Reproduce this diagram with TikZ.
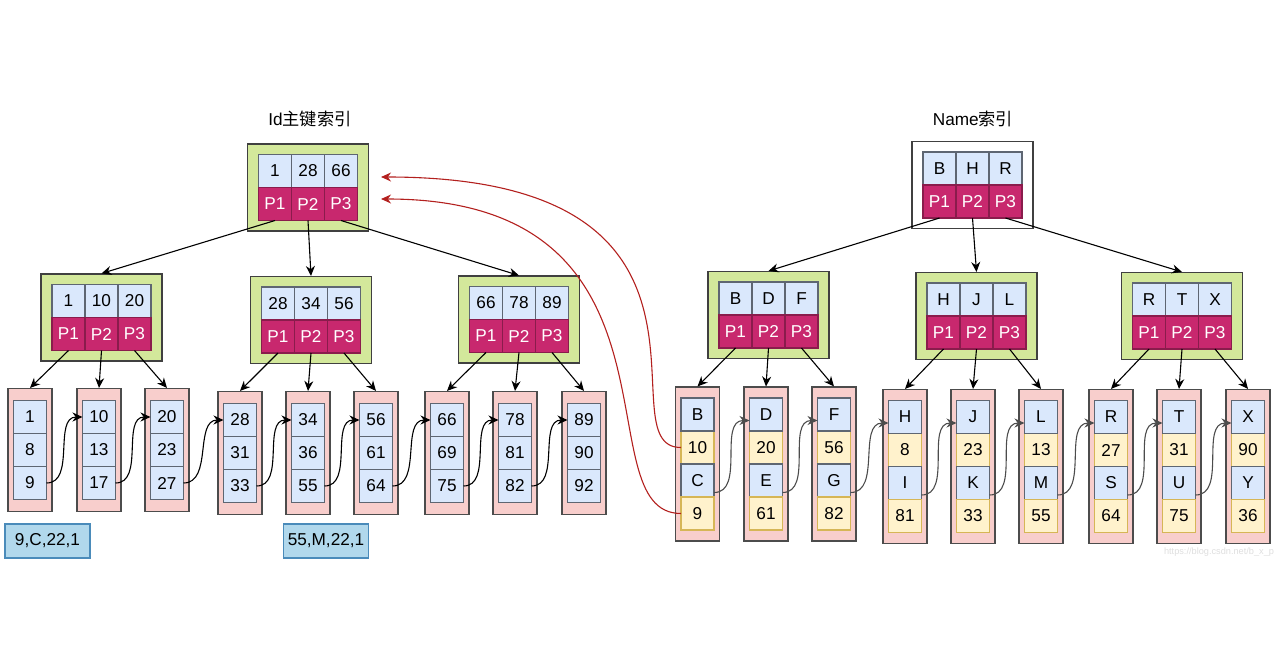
\documentclass[tikz,border=0pt]{standalone}
\usepackage{fontspec}
\setmainfont{Liberation Sans}
\newfontfamily\cjk{Noto Sans CJK SC}
\usetikzlibrary{arrows.meta,positioning}

\definecolor{keyblue}{HTML}{DAE8FC}
\definecolor{keyline}{HTML}{5E6672}
\definecolor{ptrred}{HTML}{C8286E}
\definecolor{ptrline}{HTML}{8A1C4C}
\definecolor{nodegreen}{HTML}{D3E89B}
\definecolor{leafpink}{HTML}{F8CECC}
\definecolor{datayellow}{HTML}{FFF2CC}
\definecolor{dataline}{HTML}{D6B656}
\definecolor{rowblue}{HTML}{B1D8EC}
\definecolor{rowline}{HTML}{4A8BBA}
\definecolor{linkred}{HTML}{B3201E}

% index block: name, x, y, box style, three keys
\newcommand{\idxblock}[7]{%
  \node[#4] (#1) at (#2,#3) {};
  \node[keycell, above=0pt of #1.center] (#1-k2) {#6};
  \node[keycell, left=0pt of #1-k2] (#1-k1) {#5};
  \node[keycell, right=0pt of #1-k2] (#1-k3) {#7};
  \node[ptrcell, below=0pt of #1-k1] (#1-p1) {P1};
  \node[ptrcell, below=0pt of #1-k2] (#1-p2) {P2};
  \node[ptrcell, below=0pt of #1-k3] (#1-p3) {P3};
}
% leaf of the id index: name, x, y, three keys
\newcommand{\keyleaf}[6]{%
  \node[leafbox, minimum height=61.5pt] (#1) at (#2,#3) {};
  \node[keycell] (#1-b) at (#1.center) {#5};
  \node[keycell, above=0pt of #1-b] (#1-a) {#4};
  \node[keycell, below=0pt of #1-b] (#1-c) {#6};
}
% leaf of the name index: name, x, y, key, id, key, id
\newcommand{\nameleaf}[7]{%
  \node[leafbox, minimum height=77pt] (#1) at (#2,#3) {};
  \node[datacell, above=0pt of #1.center] (#1-b) {#5};
  \node[keycell, above=0pt of #1-b] (#1-a) {#4};
  \node[keycell, below=0pt of #1-b] (#1-c) {#6};
  \node[datacell, below=0pt of #1-c] (#1-d) {#7};
}

\begin{document}
\begin{tikzpicture}[x=0.5pt, y=-0.5pt, line width=0.55pt,
                    >={Stealth[length=5pt,width=4.5pt]},
                    every node/.style={font=\fontsize{8.6}{10}\selectfont},
                    keycell/.style={draw=keyline, fill=keyblue, minimum width=16.5pt,
                                    minimum height=16.5pt, inner sep=0pt, outer sep=0pt},
                    ptrcell/.style={keycell, draw=ptrline, fill=ptrred, text=white},
                    datacell/.style={keycell, draw=dataline, fill=datayellow},
                    idxbox/.style={draw=black!75, fill=nodegreen, minimum width=60.5pt,
                                   minimum height=43.5pt, inner sep=0pt},
                    rootbox/.style={idxbox, fill=white},
                    leafbox/.style={draw=black!70, fill=leafpink, minimum width=22pt, inner sep=0pt},
                    rowbox/.style={draw=rowline, fill=rowblue, minimum width=42.5pt,
                                   minimum height=17pt, inner sep=0pt},
                    link/.style={->, black},
                    refer/.style={->, linkred}]
    \useasboundingbox (0,0) rectangle (1284,664);

   % Id index
   \node (idtitle) at (310,119) {Id{\cjk 主键索引}};
   \idxblock{idroot}{308}{187.5}{idxbox}{1}{28}{66}
   \idxblock{id1}{101.5}{317.5}{idxbox}{1}{10}{20}
   \idxblock{id28}{311}{320}{idxbox}{28}{34}{56}
   \idxblock{id66}{519}{319.5}{idxbox}{66}{78}{89}

   \keyleaf{lf1}{30}{450}{1}{8}{9}
   \keyleaf{lf10}{99}{450}{10}{13}{17}
   \keyleaf{lf20}{167}{450}{20}{23}{27}
   \keyleaf{lf28}{240}{453}{28}{31}{33}
   \keyleaf{lf34}{308}{453}{34}{36}{55}
   \keyleaf{lf56}{376}{453}{56}{61}{64}
   \keyleaf{lf66}{447}{453}{66}{69}{75}
   \keyleaf{lf78}{515}{453}{78}{81}{82}
   \keyleaf{lf89}{584}{453}{89}{90}{92}

   \node[rowbox] (row9) at (47.5,541) {9,C,22,1};
   \node[rowbox] (row55) at (326,541) {55,M,22,1};

   % Name index
   \node (nametitle) at (973,119) {Name{\cjk 索引}};
   \idxblock{nameroot}{972.5}{185}{rootbox}{B}{H}{R}
   \idxblock{nameB}{768.5}{315}{idxbox}{B}{D}{F}
   \idxblock{nameH}{976.5}{316}{idxbox}{H}{J}{L}
   \idxblock{nameR}{1182}{316}{idxbox}{R}{T}{X}

   \nameleaf{lfB}{697.5}{464}{B}{10}{C}{9}
   \nameleaf{lfD}{766}{464}{D}{20}{E}{61}
   \nameleaf{lfF}{834}{464}{F}{56}{G}{82}
   \nameleaf{lfH}{905}{466.5}{H}{8}{I}{81}
   \nameleaf{lfJ}{973}{466.5}{J}{23}{K}{33}
   \nameleaf{lfL}{1041}{466.5}{L}{13}{M}{55}
   \nameleaf{lfR}{1111}{466.5}{R}{27}{S}{64}
   \nameleaf{lfT}{1179}{466.5}{T}{31}{U}{75}
   \nameleaf{lfX}{1248}{466.5}{X}{90}{Y}{36}

   \node[text=black!13, font=\fontsize{4.6}{5}\selectfont] (mark) at (1219,552)
        {https://blog.csdn.net/b\_x\_p};

   % tree pointers
   \path[->]
    (idroot-p1.south) edge (id1.north)
    (idroot-p2.south) edge (id28.north)
    (idroot-p3.south) edge (id66.north)
    (id1-p1.south) edge (lf1.north)
    (id1-p2.south) edge (lf10.north)
    (id1-p3.south) edge (lf20.north)
    (id28-p1.south) edge (lf28.north)
    (id28-p2.south) edge (lf34.north)
    (id28-p3.south) edge (lf56.north)
    (id66-p1.south) edge (lf66.north)
    (id66-p2.south) edge (lf78.north)
    (id66-p3.south) edge (lf89.north)
    (nameroot-p1.south) edge (nameB.north)
    (nameroot-p2.south) edge (nameH.north)
    (nameroot-p3.south) edge (nameR.north)
    (nameB-p1.south) edge (lfB.north)
    (nameB-p2.south) edge (lfD.north)
    (nameB-p3.south) edge (lfF.north)
    (nameH-p1.south) edge (lfH.north)
    (nameH-p2.south) edge (lfJ.north)
    (nameH-p3.south) edge (lfL.north)
    (nameR-p1.south) edge (lfR.north)
    (nameR-p2.south) edge (lfT.north)
    (nameR-p3.south) edge (lfX.north);

   % leaf chains
   \path[link, every edge/.style={draw, out=0, in=180}]
    (lf1-c.east) edge (lf10-a.west)
    (lf10-c.east) edge (lf20-a.west)
    (lf20-c.east) edge (lf28-a.west)
    (lf28-c.east) edge (lf34-a.west)
    (lf34-c.east) edge (lf56-a.west)
    (lf56-c.east) edge (lf66-a.west)
    (lf66-c.east) edge (lf78-a.west)
    (lf78-c.east) edge (lf89-a.west);
   \path[link, black!70, every edge/.style={draw, out=0, in=180}]
    ([yshift=-6pt]lfB-c.east) edge ([yshift=-3pt]lfD-a.west)
    ([yshift=-6pt]lfD-c.east) edge ([yshift=-3pt]lfF-a.west)
    ([yshift=-6pt]lfF-c.east) edge ([yshift=-3pt]lfH-a.west)
    ([yshift=-6pt]lfH-c.east) edge ([yshift=-3pt]lfJ-a.west)
    ([yshift=-6pt]lfJ-c.east) edge ([yshift=-3pt]lfL-a.west)
    ([yshift=-6pt]lfL-c.east) edge ([yshift=-3pt]lfR-a.west)
    ([yshift=-6pt]lfR-c.east) edge ([yshift=-3pt]lfT-a.west)
    ([yshift=-6pt]lfT-c.east) edge ([yshift=-3pt]lfX-a.west);

   % back to the primary key
   \coordinate (hit10) at ([xshift=6pt,yshift=5.25pt]idroot.east);
   \coordinate (hit9) at ([xshift=6pt,yshift=-5.75pt]idroot.east);
   \draw[refer] (lfB-b.west) .. controls +(-80,0) and +(380,0) .. (hit10);
   \draw[refer] (lfB-d.west) .. controls +(-100,0) and +(320,0) .. (hit9);

\end{tikzpicture}
\end{document}
